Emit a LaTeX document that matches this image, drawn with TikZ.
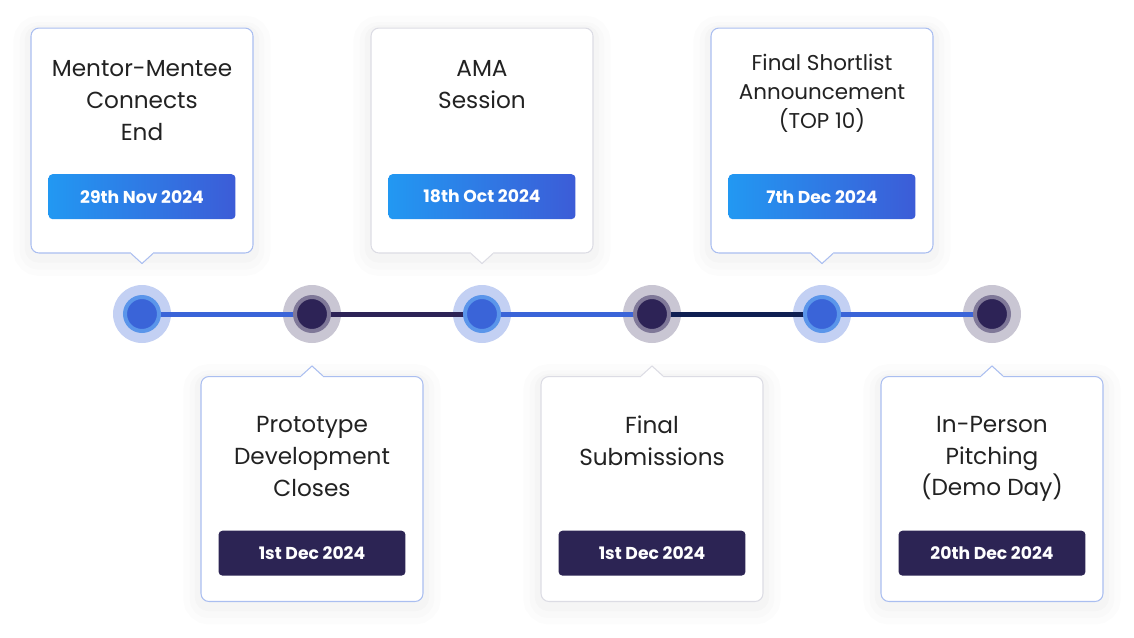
\documentclass[tikz,border=0pt]{standalone}
\usepackage{fontspec}
\setmainfont{Poppins}
\usetikzlibrary{positioning}

\definecolor{ink}{HTML}{222222}
\definecolor{edgeblue}{HTML}{AABEF0}
\definecolor{edgegray}{HTML}{DCDCE4}
\definecolor{dateA}{HTML}{2298F2}
\definecolor{dateB}{HTML}{3C5CD7}
\definecolor{dateD}{HTML}{2C2454}
\definecolor{blueO}{HTML}{C3D0F3}
\definecolor{blueM}{HTML}{5A95EA}
\definecolor{blueI}{HTML}{3A64D8}
\definecolor{darkO}{HTML}{C9C6D3}
\definecolor{darkM}{HTML}{7F7898}
\definecolor{darkI}{HTML}{2D2356}
\definecolor{navy}{HTML}{0F1F52}

\begin{document}
\begin{tikzpicture}[x=0.02cm, y=-0.02cm,
  card/.style = {shape=rectangle, rounded corners=4.5pt, fill=white, line width=0.6pt,
    minimum width=4.44cm, minimum height=4.5cm,
    preaction={draw=black, opacity=0.010, line width=20pt, transform canvas={yshift=-3pt}},
    preaction={draw=black, opacity=0.012, line width=13pt, transform canvas={yshift=-3pt}},
    preaction={draw=black, opacity=0.014, line width=7pt, transform canvas={yshift=-2pt}}},
  title/.style = {align=center, text=ink, font=\fontsize{13.2}{18.1}\selectfont},
  small/.style = {title, font=\fontsize{12.2}{16.4}\selectfont},
  datebox/.style = {shape=rectangle, rounded corners=2.3pt, minimum width=3.74cm,
    minimum height=0.9cm, text=white, font=\fontsize{9.8}{12}\selectfont\bfseries},
  bluedate/.style = {datebox, left color=dateA, right color=dateB},
  darkdate/.style = {datebox, fill=dateD},
  ring/.style = {shape=circle, inner sep=0pt, minimum size=1.16cm},
  core/.style = {shape=circle, inner sep=0pt, minimum size=0.68cm, line width=0.08cm},
  seg/.style = {line width=0.1cm}]

  \useasboundingbox (0,0) rectangle (1134,637);

  % cards above the line
  \node[card, draw=edgeblue] (c1) at (142,140.5) {};
  \node[card, draw=edgegray] (c2) at (482,140.5) {};
  \node[card, draw=edgeblue] (c3) at (822,140.5) {};
  % cards below the line
  \node[card, draw=edgeblue] (c4) at (312,489) {};
  \node[card, draw=edgegray] (c5) at (652,489) {};
  \node[card, draw=edgeblue] (c6) at (992,489) {};

  % pointers
  \foreach \c/\e in {c1/edgeblue, c2/edgegray, c3/edgeblue} {
    \fill[white] ([xshift=-0.22cm, yshift=0.06cm]\c.south) -- ([xshift=-0.22cm]\c.south)
      -- ([yshift=-0.2cm]\c.south) -- ([xshift=0.22cm]\c.south)
      -- ([xshift=0.22cm, yshift=0.06cm]\c.south) -- cycle;
    \draw[\e, line width=0.6pt] ([xshift=-0.22cm]\c.south) -- ([yshift=-0.2cm]\c.south)
      -- ([xshift=0.22cm]\c.south);
  }
  \foreach \c/\e in {c4/edgeblue, c5/edgegray, c6/edgeblue} {
    \fill[white] ([xshift=-0.22cm, yshift=-0.06cm]\c.north) -- ([xshift=-0.22cm]\c.north)
      -- ([yshift=0.2cm]\c.north) -- ([xshift=0.22cm]\c.north)
      -- ([xshift=0.22cm, yshift=-0.06cm]\c.north) -- cycle;
    \draw[\e, line width=0.6pt] ([xshift=-0.22cm]\c.north) -- ([yshift=0.2cm]\c.north)
      -- ([xshift=0.22cm]\c.north);
  }

  % titles
  \node[title] (t1) at (142,100.5) {Mentor-Mentee\\Connects\\End};
  \node[title] (t2) at (482,84.5) {AMA\\Session};
  \node[small] (t3) at (822,93.5) {Final Shortlist\\Announcement\\(TOP 10)};
  \node[title] (t4) at (312,456.5) {Prototype\\Development\\Closes};
  \node[title] (t5) at (652,440.5) {Final\\Submissions};
  \node[title] (t6) at (992,459) {In-Person\\Pitching\\(Demo Day)};

  % dates
  \node[bluedate, above=0.68cm of c1.south] (d1) {29th Nov 2024};
  \node[bluedate, above=0.68cm of c2.south] (d2) {18th Oct 2024};
  \node[bluedate, above=0.68cm of c3.south] (d3) {7th Dec 2024};
  \node[darkdate, above=0.52cm of c4.south] (d4) {1st Dec 2024};
  \node[darkdate, above=0.52cm of c5.south] (d5) {1st Dec 2024};
  \node[darkdate, above=0.52cm of c6.south] (d6) {20th Dec 2024};

  % timeline
  \node[ring, fill=blueO] (m1) at (142,314) {};
  \node[ring, fill=darkO] (m2) at (312,314) {};
  \node[ring, fill=blueO] (m3) at (482,314) {};
  \node[ring, fill=darkO] (m4) at (652,314) {};
  \node[ring, fill=blueO] (m5) at (822,314) {};
  \node[ring, fill=darkO] (m6) at (992,314) {};

  \draw[seg, blueI] (m1.center) -- (m2.center);
  \draw[seg, darkI] (m2.center) -- (m3.center);
  \draw[seg, blueI] (m3.center) -- (m4.center);
  \draw[seg, navy] (m4.center) -- (m5.center);
  \draw[seg, blueI] (m5.center) -- (m6.center);

  \foreach \m in {m1, m3, m5}
    \node[core, fill=blueI, draw=blueM] (k\m) at (\m) {};
  \foreach \m in {m2, m4, m6}
    \node[core, fill=darkI, draw=darkM] (k\m) at (\m) {};
\end{tikzpicture}
\end{document}
